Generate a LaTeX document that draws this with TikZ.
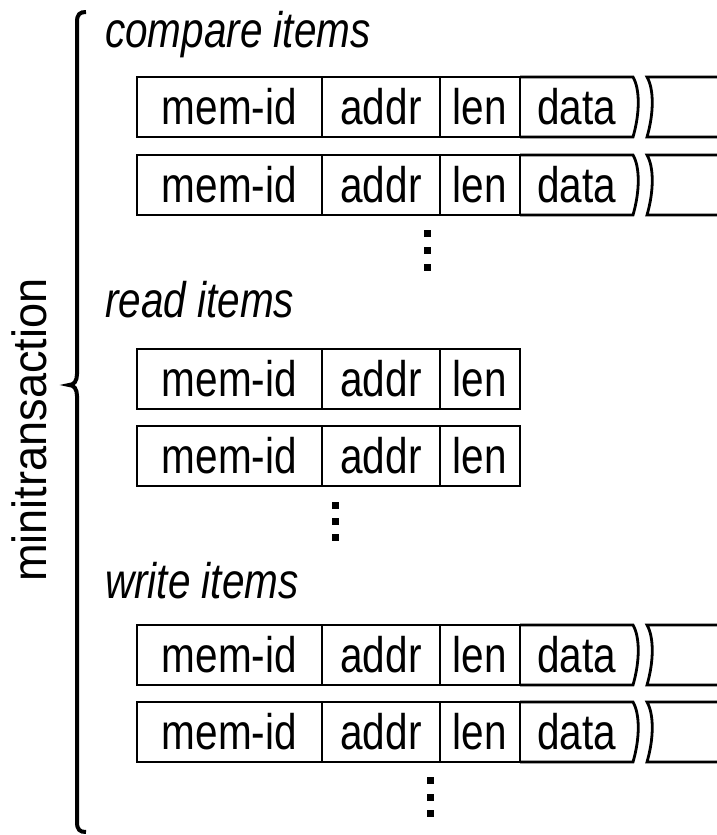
\documentclass[tikz,border=0pt]{standalone}
\usepackage{fontspec}
\setmainfont{Liberation Sans}[FakeStretch=0.81]
\newfontfamily\sidefont{Liberation Sans}[FakeStretch=0.94]
\usetikzlibrary{positioning}

\begin{document}
\begin{tikzpicture}[
    x=1pt, y=-1pt,
    cell/.style={
        rectangle,
        draw=black,
        line width=2.8pt,
        inner sep=0pt,
        outer sep=0pt,
        minimum height=60pt,
        font=\fontsize{50}{54}\selectfont
    },
    datacell/.style={cell, draw=none},
    edge/.style={line width=2.8pt},
    heading/.style={anchor=base west, inner sep=0pt, font=\fontsize{50}{54}\selectfont\itshape},
    dot/.style={rectangle, fill=black, inner sep=0pt, minimum size=7pt},
    curly/.style={line width=4pt}
]
    \useasboundingbox (0,0) rectangle (716,835);

    % Side label and brace
    \node[rotate=90, anchor=base, inner sep=0pt, font=\sidefont\fontsize{48}{52}\selectfont] (side) at (46,430) {minitransaction};
    \draw[curly] (86,12) .. controls (80,12) and (77,14) .. (77,22) -- (77,374)
        .. controls (77,381) and (74,385) .. (69,385)
        .. controls (74,385) and (77,389) .. (77,396) -- (77,822)
        .. controls (77,830) and (80,832) .. (86,832);

    % Compare items
    \node[heading] (chead) at (105,47) {compare items};
    \node[cell, minimum width=185pt, anchor=north west] (cmem1) at (137,77) {mem-id};
    \node[cell, minimum width=118pt, right=0pt of cmem1] (caddr1) {addr};
    \node[cell, minimum width=80pt, right=0pt of caddr1] (clen1) {len};
    \node[datacell, minimum width=113pt, right=0pt of clen1] (cdata1) {data};
    \node[cell, minimum width=185pt, anchor=north west] (cmem2) at (137,155) {mem-id};
    \node[cell, minimum width=118pt, right=0pt of cmem2] (caddr2) {addr};
    \node[cell, minimum width=80pt, right=0pt of caddr2] (clen2) {len};
    \node[datacell, minimum width=113pt, right=0pt of clen2] (cdata2) {data};
    \node[dot] (cdot1) at (427,233) {};
    \node[dot] (cdot2) at (427,250) {};
    \node[dot] (cdot3) at (427,267) {};

    % Read items
    \node[heading] (rhead) at (105,317) {read items};
    \node[cell, minimum width=185pt, anchor=north west] (rmem1) at (137,349) {mem-id};
    \node[cell, minimum width=118pt, right=0pt of rmem1] (raddr1) {addr};
    \node[cell, minimum width=80pt, right=0pt of raddr1] (rlen1) {len};
    \node[cell, minimum width=185pt, anchor=north west] (rmem2) at (137,426) {mem-id};
    \node[cell, minimum width=118pt, right=0pt of rmem2] (raddr2) {addr};
    \node[cell, minimum width=80pt, right=0pt of raddr2] (rlen2) {len};
    \node[dot] (rdot1) at (335,505) {};
    \node[dot] (rdot2) at (335,521) {};
    \node[dot] (rdot3) at (335,537) {};

    % Write items
    \node[heading] (whead) at (105,598) {write items};
    \node[cell, minimum width=185pt, anchor=north west] (wmem1) at (137,625) {mem-id};
    \node[cell, minimum width=118pt, right=0pt of wmem1] (waddr1) {addr};
    \node[cell, minimum width=80pt, right=0pt of waddr1] (wlen1) {len};
    \node[datacell, minimum width=113pt, right=0pt of wlen1] (wdata1) {data};
    \node[cell, minimum width=185pt, anchor=north west] (wmem2) at (137,702) {mem-id};
    \node[cell, minimum width=118pt, right=0pt of wmem2] (waddr2) {addr};
    \node[cell, minimum width=80pt, right=0pt of waddr2] (wlen2) {len};
    \node[datacell, minimum width=113pt, right=0pt of wlen2] (wdata2) {data};
    \node[dot] (wdot1) at (430,780) {};
    \node[dot] (wdot2) at (430,797) {};
    \node[dot] (wdot3) at (430,813) {};

    % Data fields broken off on the right
    \foreach \d in {cdata1, cdata2, wdata1, wdata2} {
        \draw[edge] (\d.north west) -- (\d.north east)
            .. controls +(7,12) and +(7,-24) .. (\d.south east) -- (\d.south west);
        \draw[edge] ([xshift=90pt]\d.north east) -- ([xshift=14pt]\d.north east)
            .. controls +(7,12) and +(7,-24) .. ([xshift=14pt]\d.south east)
            -- ([xshift=90pt]\d.south east);
    }
\end{tikzpicture}
\end{document}
